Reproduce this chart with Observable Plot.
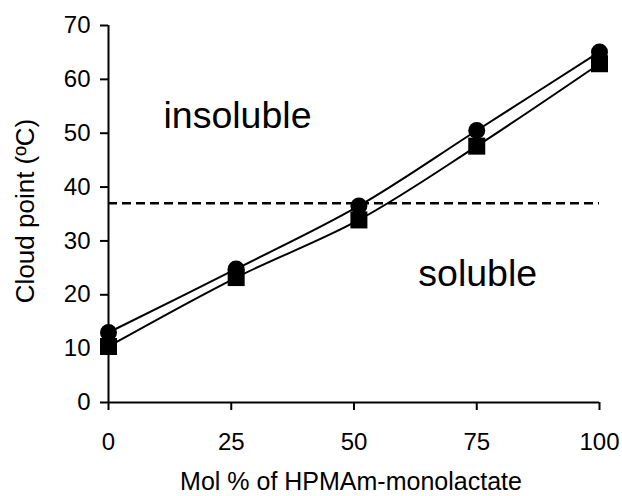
<!DOCTYPE html>
<html><head><meta charset="utf-8">
<script src="https://cdn.jsdelivr.net/npm/d3@7"></script>
<script src="https://cdn.jsdelivr.net/npm/@observablehq/plot@0.6"></script>
<style>
body{margin:0;background:#fff}
svg{font-family:"Liberation Sans",Arial,sans-serif}
</style>
</head><body><div id="chart"></div>
<script>
const molPercent = [0, 26, 51, 75, 100];
const cloudCircle = [13.0, 24.8, 36.5, 50.5, 65.1];
const cloudSquare = [10.4, 23.2, 33.9, 47.6, 62.9];
const xTicks = [0, 25, 50, 75, 100];
const yTicks = [0, 10, 20, 30, 40, 50, 60, 70];
const thresholdTemp = 37;
const regionNames = ["insoluble", "soluble"];
const regionX = [11.2, 63.1];
const regionY = [51.0, 21.6];
const xTitle = "Mol % of HPMAm-monolactate";
const yTitle = "Cloud point (ºC)";

const circles = molPercent.map((x, i) => ({x, y: cloudCircle[i]}));
const squares = molPercent.map((x, i) => ({x, y: cloudSquare[i]}));
const regions = regionNames.map((t, i) => ({t, x: regionX[i], y: regionY[i]}));

const chart = Plot.plot({
  width: 622, height: 496,
  marginLeft: 108, marginRight: 23, marginTop: 25, marginBottom: 94,
  x: {domain: [0, 100]},
  y: {domain: [0, 70]},
  style: {fontFamily: '"Liberation Sans", Arial, sans-serif', background: "#fff", color: "#000"},
  marks: [
    Plot.ruleY([thresholdTemp], {x1: 0, x2: 100, stroke: "#000", strokeWidth: 2.5, strokeDasharray: "9,5"}),
    Plot.line(circles, {x: "x", y: "y", curve: "catmull-rom", stroke: "#000", strokeWidth: 2}),
    Plot.line(squares, {x: "x", y: "y", curve: "catmull-rom", stroke: "#000", strokeWidth: 2}),
    Plot.dot(squares, {x: "x", y: "y", symbol: "square", r: 9.6, fill: "#000", stroke: null}),
    Plot.dot(circles, {x: "x", y: "y", symbol: "circle", r: 8.5, fill: "#000", stroke: null}),
    Plot.axisX({ticks: xTicks, tickSize: 8, tickPadding: 22, fontSize: 24, strokeWidth: 2, label: null, tickFormat: d => String(d)}),
    Plot.axisY({ticks: yTicks, tickSize: 8, tickPadding: 10, fontSize: 24, strokeWidth: 2, label: null, tickFormat: d => String(d)}),
    Plot.ruleX([0], {y1: 0, y2: 70, stroke: "#000", strokeWidth: 2}),
    Plot.ruleY([0], {x1: 0, x2: 100, stroke: "#000", strokeWidth: 2}),
    Plot.text(regions, {x: "x", y: "y", text: "t", textAnchor: "start", lineAnchor: "bottom", fontSize: 37.5, fill: "#000"}),
    Plot.text([xTitle], {frameAnchor: "bottom", dx: -3, dy: 79, textAnchor: "middle", lineAnchor: "middle", fontSize: 25, fill: "#000"}),
    Plot.text([yTitle], {frameAnchor: "left", dx: -83, dy: -3, rotate: -90, textAnchor: "middle", lineAnchor: "middle", fontSize: 26, fill: "#000"})
  ]
});
document.getElementById("chart").appendChild(chart);
</script>
</body></html>
